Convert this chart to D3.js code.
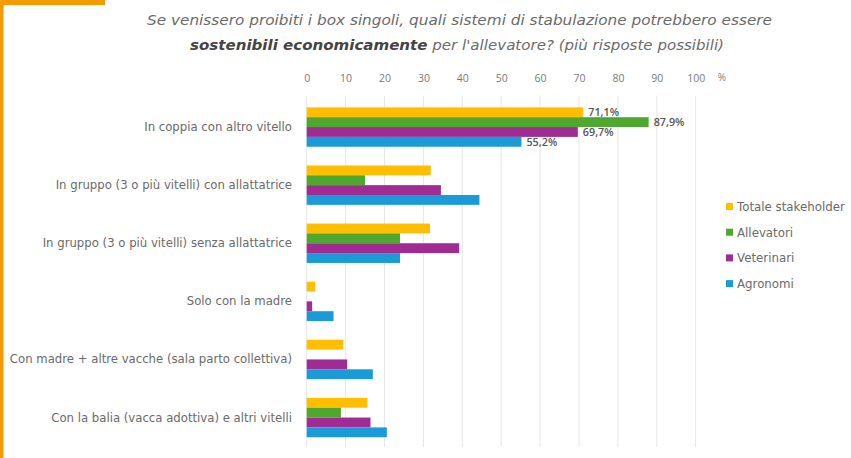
<!DOCTYPE html>
<html><head><meta charset="utf-8">
<script src="https://cdn.jsdelivr.net/npm/d3@7"></script>
<style>body{margin:0;background:#fff}svg{display:block}</style>
</head><body>
<svg id="c" width="851" height="458"></svg>
<script>
const categories = [
  "In coppia con altro vitello",
  "In gruppo (3 o più vitelli) con allattatrice",
  "In gruppo (3 o più vitelli) senza allattatrice",
  "Solo con la madre",
  "Con madre + altre vacche (sala parto collettiva)",
  "Con la balia (vacca adottiva) e altri vitelli"
];
const seriesNames = ["Totale stakeholder", "Allevatori", "Veterinari", "Agronomi"];
const totale    = [71.1, 31.9, 31.7, 2.2, 9.4, 15.6];
const allevatori= [87.9, 15.0, 24.0, 0, 0, 8.8];
const veterinari= [69.7, 34.5, 39.2, 1.4, 10.4, 16.4];
const agronomi  = [55.2, 44.4, 24.0, 6.9, 17.0, 20.6];
const tickValues = [0,10,20,30,40,50,60,70,80,90,100];
const labelledCategory = "In coppia con altro vitello";
const colors = ["#FFBF00", "#4EA72E", "#A02B93", "#1A9BD7"];

const series = [totale, allevatori, veterinari, agronomi];
const svg = d3.select("#c");
const wideFont = "'DejaVu Sans', sans-serif";

// orange frame
svg.append("rect").attr("x",0).attr("y",0).attr("width",105).attr("height",5).attr("fill","#F59B00");
svg.append("rect").attr("x",0).attr("y",0).attr("width",3.5).attr("height",458).attr("fill","#F59B00");

const x = d3.scaleLinear().domain([0,100]).range([306.7, 695.7]);
const y = d3.scaleBand().domain(categories).range([98, 446.6]).paddingInner(0.322).paddingOuter(0.161);
const ys = d3.scaleBand().domain(d3.range(4)).range([0, y.bandwidth()]);

// gridlines
svg.append("g").selectAll("line").data(tickValues).join("line")
  .attr("x1", d=>x(d)).attr("x2", d=>x(d)).attr("y1", 96).attr("y2", 447)
  .attr("stroke", "#e6e6e6").attr("stroke-width", 1);

// top axis labels
const axis = d3.axisTop(x).tickValues(tickValues).tickSize(0).tickPadding(0).tickFormat(d3.format("d"));
const ag = svg.append("g").attr("transform","translate(0,82)").call(axis);
ag.select(".domain").remove();
ag.selectAll("text").attr("fill","#7a7a7a").style("font-family","'Open Sans', sans-serif").style("font-size","10.5px");
svg.append("text").attr("x", 722).attr("y", 81).attr("text-anchor","middle")
  .attr("fill","#7a7a7a").style("font-family","'Open Sans', sans-serif").style("font-size","10px").text("%");

// title
const title = svg.append("g").style("font-family", wideFont).style("font-style","italic").style("font-size","13.2px");
title.append("text").attr("x", 147).attr("y", 25).attr("fill","#6a6a6a")
  .attr("textLength", 625).attr("lengthAdjust","spacingAndGlyphs")
  .text("Se venissero proibiti i box singoli, quali sistemi di stabulazione potrebbero essere");
const t2 = title.append("text").attr("x", 190).attr("y", 50).attr("fill","#6a6a6a")
  .attr("textLength", 534).attr("lengthAdjust","spacingAndGlyphs");
t2.append("tspan").attr("font-weight","bold").attr("fill","#444").text("sostenibili economicamente");
t2.append("tspan").text(" per l'allevatore? (più risposte possibili)");

// bars
const groups = svg.append("g").selectAll("g").data(categories).join("g")
  .attr("transform", d=>`translate(0,${y(d)})`);
groups.selectAll("rect").data((c,i)=>series.map((s,k)=>({k, v:s[i]}))).join("rect")
  .attr("x", x(0)).attr("y", d=>ys(d.k)).attr("height", ys.bandwidth())
  .attr("width", d=>x(d.v)-x(0)).attr("fill", d=>colors[d.k]);

// data labels for first category
const fmt = v => d3.format(".1f")(v).replace(".", ",") + "%";
const li = categories.indexOf(labelledCategory);
svg.append("g").selectAll("text").data(series.map((s,k)=>({k, v:s[li]}))).join("text")
  .attr("x", d=>x(d.v)+5).attr("y", d=>y(labelledCategory)+ys(d.k)+ys.bandwidth()/2+4)
  .attr("fill","#555").style("font-family","'Open Sans', sans-serif").style("font-size","10.8px").style("font-weight","600")
  .text(d=>fmt(d.v));

// category labels
svg.append("g").selectAll("text").data(categories).join("text")
  .attr("x", 292).attr("y", d=>y(d)+y.bandwidth()/2+4).attr("text-anchor","end")
  .attr("fill","#6a6a6a").style("font-family", wideFont).style("font-size","11.7px")
  .text(d=>d);

// legend
const lg = svg.append("g").selectAll("g").data(seriesNames).join("g")
  .attr("transform", (d,i)=>`translate(726,${207 + i*25.7})`);
lg.append("rect").attr("x",0).attr("y",-4).attr("width",7).attr("height",7).attr("fill",(d,i)=>colors[i]);
lg.append("text").attr("x",11).attr("y",4).attr("fill","#6a6a6a")
  .style("font-family", wideFont).style("font-size","11.8px").text(d=>d);
</script>
</body></html>
